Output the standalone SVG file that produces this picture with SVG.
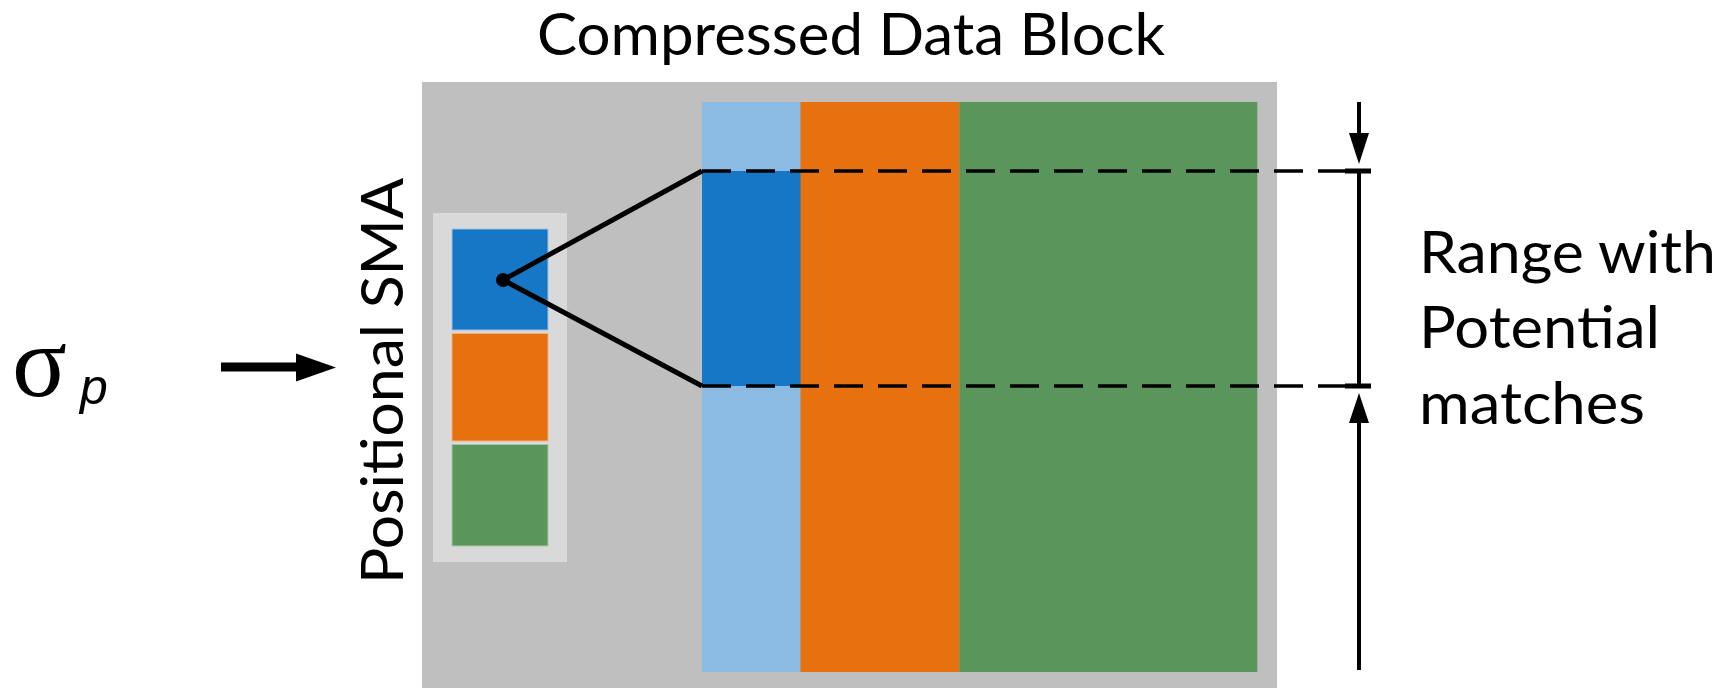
<svg xmlns="http://www.w3.org/2000/svg" width="1729" height="688" viewBox="0 0 1729 688">
<style>
.lbl{font-family:Lato,"Open Sans","Liberation Sans",sans-serif;font-size:59px;fill:#000}
.ln{stroke:#000;fill:none}
.dash{stroke:#000;stroke-width:3.5;stroke-dasharray:29 15;fill:none}
</style>
<rect width="1729" height="688" fill="#fff"/>
<g id="title"><text class="lbl" x="851" y="55" text-anchor="middle" textLength="628" lengthAdjust="spacingAndGlyphs">Compressed Data Block</text></g>
<g id="block">
<rect x="422" y="82" width="855" height="606" fill="#BFBFBF"/>
<rect x="702" y="102" width="99" height="570" fill="#8BBAE3"/>
<rect x="702" y="171" width="99" height="215" fill="#1577C6"/>
<rect x="800.5" y="102" width="159" height="570" fill="#E8710F"/>
<rect x="959.3" y="102" width="298" height="570" fill="#5A955C"/>
</g>
<g id="sma">
<rect x="433" y="213" width="134" height="349" fill="#D9D9D9"/>
<rect x="452" y="229" width="96" height="101" fill="#1577C6" stroke="#9CC3E6" stroke-width="1"/>
<rect x="452" y="333.5" width="96" height="107.5" fill="#E8710F" stroke="#F2B27F" stroke-width="1"/>
<rect x="452" y="444.5" width="96" height="101.5" fill="#5A955C" stroke="#A8C9A9" stroke-width="1"/>
<text class="lbl" transform="translate(403,381) rotate(-90)" x="0" y="0" text-anchor="middle" textLength="406" lengthAdjust="spacingAndGlyphs">Positional SMA</text>
</g>
<g id="sigma">
<text x="12" y="396" style="font-family:'Liberation Serif','DejaVu Serif',serif;font-size:102px">σ</text>
<text x="80" y="404" style="font-family:'Liberation Sans',Arial,sans-serif;font-size:50px;font-style:italic">p</text>
</g>
<g id="range-label">
<text class="lbl" x="1419" y="273" textLength="297" lengthAdjust="spacingAndGlyphs">Range with</text>
<text class="lbl" x="1419" y="348" textLength="241" lengthAdjust="spacingAndGlyphs">Potential</text>
<text class="lbl" x="1419" y="424" textLength="226" lengthAdjust="spacingAndGlyphs">matches</text>
</g>
<g id="connectors">
<rect x="221" y="362.5" width="77" height="9" fill="#000"/>
<polygon points="296,353.5 336,367.5 296,381.5" fill="#000"/>
<polyline class="ln" stroke-width="5" stroke-linejoin="round" points="702,171 503,280 702,386"/>
<circle cx="503" cy="280" r="7" fill="#000"/>
<line class="dash" x1="702" y1="171" x2="1346" y2="171"/>
<line class="dash" x1="702" y1="386" x2="1346" y2="386"/>
<rect x="1345" y="168.5" width="26" height="5" fill="#000"/>
<rect x="1345" y="383.5" width="26" height="5" fill="#000"/>
<line class="ln" stroke-width="4" x1="1359" y1="171" x2="1359" y2="386"/>
<line class="ln" stroke-width="4" x1="1359" y1="102" x2="1359" y2="136"/>
<polygon points="1349,133 1369,133 1359,164" fill="#000"/>
<line class="ln" stroke-width="4" x1="1359" y1="420" x2="1359" y2="670"/>
<polygon points="1349,423 1369,423 1359,393" fill="#000"/>
</g>
</svg>
